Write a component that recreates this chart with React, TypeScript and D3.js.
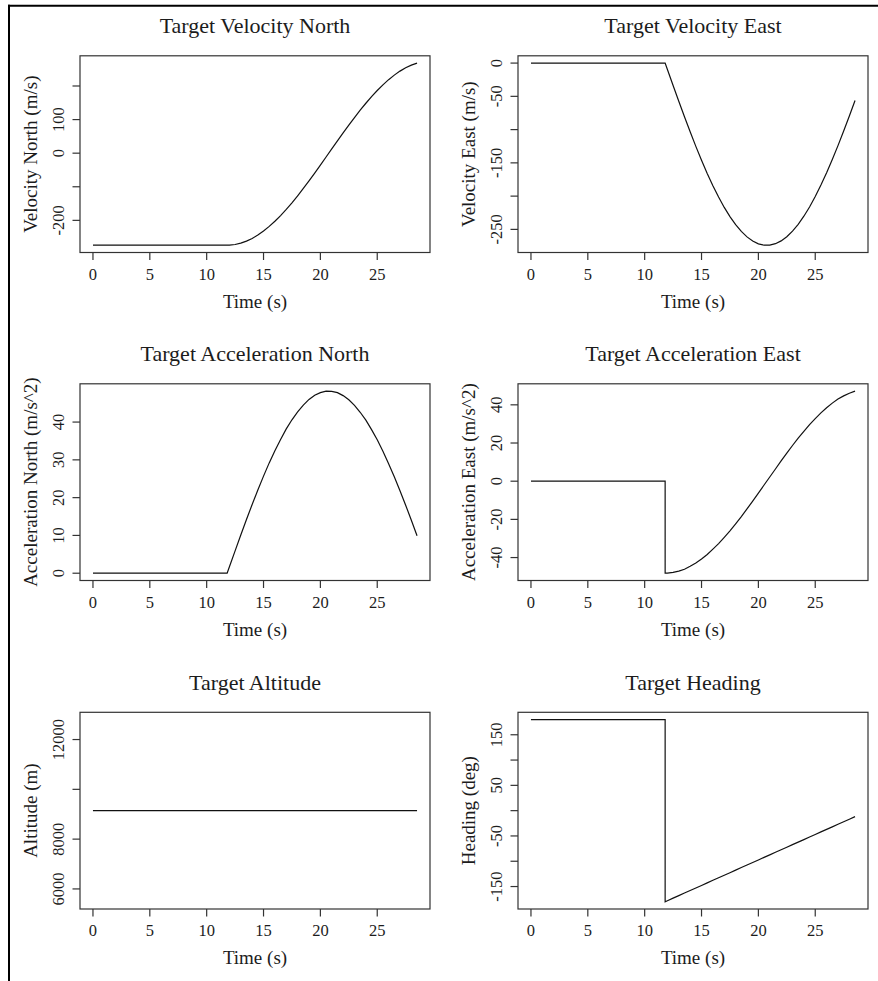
import React from 'react';
import * as d3 from 'd3';

// sample times (s); 11.8 appears twice so the jumps at the turn start stay vertical
const times = [0, 11.8, 11.8, 12, 12.5, 13, 13.5, 14, 14.5, 15, 15.5, 16, 16.5, 17, 17.5, 18, 18.5, 19, 19.5, 20, 20.5, 21, 21.5, 22, 22.5, 23, 23.5, 24, 24.5, 25, 25.5, 26, 26.5, 27, 27.5, 28, 28.5];

const velNorth = [-274, -274, -274, -273.8, -271.9, -267.9, -261.9, -253.8, -243.7, -231.8, -218.0, -202.7, -185.7, -167.4, -147.7, -126.8, -105.0, -82.4, -59.1, -35.4, -11.4, 12.6, 36.6, 60.3, 83.5, 106.1, 127.9, 148.6, 168.3, 186.6, 203.5, 218.8, 232.4, 244.3, 254.2, 262.2, 268.2];
const velEast = [0, 0, 0, -9.6, -33.6, -57.3, -80.7, -103.3, -125.2, -146.1, -165.9, -184.4, -201.4, -217.0, -230.8, -242.9, -253.1, -261.3, -267.5, -271.7, -273.8, -273.7, -271.5, -267.3, -261.0, -252.6, -242.3, -230.2, -216.3, -200.6, -183.4, -164.9, -145.1, -124.1, -102.2, -79.5, -56.2];
const accNorth = [0, 0, 0, 1.7, 5.9, 10.1, 14.2, 18.2, 22.0, 25.7, 29.2, 32.4, 35.4, 38.2, 40.6, 42.7, 44.5, 46.0, 47.1, 47.8, 48.2, 48.1, 47.8, 47.0, 45.9, 44.4, 42.6, 40.5, 38.0, 35.3, 32.3, 29.0, 25.5, 21.8, 18.0, 14.0, 9.9];
const accEast = [0, 0, -48.2, -48.2, -47.8, -47.1, -46.1, -44.6, -42.9, -40.8, -38.4, -35.6, -32.7, -29.4, -26.0, -22.3, -18.5, -14.5, -10.4, -6.2, -2.0, 2.2, 6.4, 10.6, 14.7, 18.7, 22.5, 26.1, 29.6, 32.8, 35.8, 38.5, 40.9, 43.0, 44.7, 46.1, 47.2];
const heading = [180, 180, -180, -178.0, -173.0, -167.9, -162.9, -157.9, -152.8, -147.8, -142.7, -137.7, -132.7, -127.6, -122.6, -117.6, -112.5, -107.5, -102.5, -97.4, -92.4, -87.4, -82.3, -77.3, -72.3, -67.2, -62.2, -57.2, -52.1, -47.0, -42.0, -37.0, -32.0, -26.9, -21.9, -16.9, -11.8];
const altitudeTimes = [0, 28.5];
const altitude = [9144, 9144];

const xTicks = [0, 5, 10, 15, 20, 25];

const velNorthTicks = [-200, -100, 0, 100, 200];
const velNorthLabels = [-200, 0, 100];
const velEastTicks = [0, -50, -100, -150, -200, -250];
const velEastLabels = [0, -50, -150, -250];
const accNorthTicks = [0, 10, 20, 30, 40];
const accNorthLabels = [0, 10, 20, 30, 40];
const accEastTicks = [-40, -20, 0, 20, 40];
const accEastLabels = [-40, -20, 0, 20, 40];
const altitudeTicks = [6000, 8000, 10000, 12000];
const altitudeLabels = [6000, 8000, 12000];
const headingTicks = [-150, -100, -50, 0, 50, 100, 150];
const headingLabels = [-150, -50, 50, 150];

const W = 878, H = 981;
const colX = [0, 438];
const rowY = [0, 328, 656.5];
const FONT = '"Liberation Serif", "Times New Roman", serif';
const INK = '#1c1c1c';

// R-like default range: extend 4% each side
function rRange(vals: number[]): [number, number] {
  let [lo, hi] = d3.extent(vals) as [number, number];
  if (lo === hi) {
    const d = Math.abs(lo) * 0.4 || 1;
    lo = lo - d; hi = hi + d;
  }
  const pad = (hi - lo) * 0.04;
  return [lo - pad, hi + pad];
}

type PanelProps = {
  col: number; row: number; title: string; ylab: string;
  xs: number[]; ys: number[]; yTicks: number[]; yLabels: number[];
};

function Panel({ col, row, title, ylab, xs, ys, yTicks, yLabels }: PanelProps) {
  const left = colX[col] + 80, right = colX[col] + 430;
  const top = rowY[row] + 55.8, bottom = rowY[row] + 252.5;
  const x = d3.scaleLinear().domain(rRange(times)).range([left, right]);
  const y = d3.scaleLinear().domain(rRange(ys)).range([bottom, top]);
  const line = d3.line<number>().x((d, i) => x(xs[i])).y(d => y(d));
  const cx = (left + right) / 2, cy = (top + bottom) / 2;

  return (
    <g>
      <text x={cx} y={top - 22.5} textAnchor="middle" fontSize={22} fill={INK}>{title}</text>
      <rect x={left} y={top} width={right - left} height={bottom - top} fill="none" stroke="#333" strokeWidth={1.2} />
      <path d={line(ys) || ''} fill="none" stroke="#111" strokeWidth={1.2} />
      {xTicks.map(t => (
        <g key={'x' + t}>
          <line x1={x(t)} x2={x(t)} y1={bottom} y2={bottom + 7.5} stroke="#333" strokeWidth={1.2} />
          <text x={x(t)} y={bottom + 27.3} textAnchor="middle" fontSize={16.5} fill={INK}>{t}</text>
        </g>
      ))}
      {yTicks.map(t => (
        <line key={'y' + t} x1={left - 7.5} x2={left} y1={y(t)} y2={y(t)} stroke="#333" strokeWidth={1.2} />
      ))}
      {yLabels.map(t => (
        <text key={'yl' + t} transform={`translate(${left - 16.5},${y(t)}) rotate(-90)`} textAnchor="middle" fontSize={16.5} fill={INK}>{String(t)}</text>
      ))}
      <text x={cx} y={bottom + 55} textAnchor="middle" fontSize={19} fill={INK}>Time (s)</text>
      <text transform={`translate(${left - 43.5},${cy}) rotate(-90)`} textAnchor="middle" fontSize={19} fill={INK}>{ylab}</text>
    </g>
  );
}

export default function App() {
  return (
    <svg width={W} height={H} style={{ position: 'absolute', left: 0, top: 0, background: '#fff' }} fontFamily={FONT}>
      <rect x={0} y={0} width={W} height={H} fill="#fff" />
      <line x1={8} x2={W} y1={5.7} y2={5.7} stroke="#000" strokeWidth={2} />
      <line x1={9} x2={9} y1={4.7} y2={H} stroke="#000" strokeWidth={2} />
      <Panel col={0} row={0} title="Target Velocity North" ylab="Velocity North (m/s)" xs={times} ys={velNorth} yTicks={velNorthTicks} yLabels={velNorthLabels} />
      <Panel col={1} row={0} title="Target Velocity East" ylab="Velocity East (m/s)" xs={times} ys={velEast} yTicks={velEastTicks} yLabels={velEastLabels} />
      <Panel col={0} row={1} title="Target Acceleration North" ylab="Acceleration North (m/s^2)" xs={times} ys={accNorth} yTicks={accNorthTicks} yLabels={accNorthLabels} />
      <Panel col={1} row={1} title="Target Acceleration East" ylab="Acceleration East (m/s^2)" xs={times} ys={accEast} yTicks={accEastTicks} yLabels={accEastLabels} />
      <Panel col={0} row={2} title="Target Altitude" ylab="Altitude (m)" xs={altitudeTimes} ys={altitude} yTicks={altitudeTicks} yLabels={altitudeLabels} />
      <Panel col={1} row={2} title="Target Heading" ylab="Heading (deg)" xs={times} ys={heading} yTicks={headingTicks} yLabels={headingLabels} />
    </svg>
  );
}
